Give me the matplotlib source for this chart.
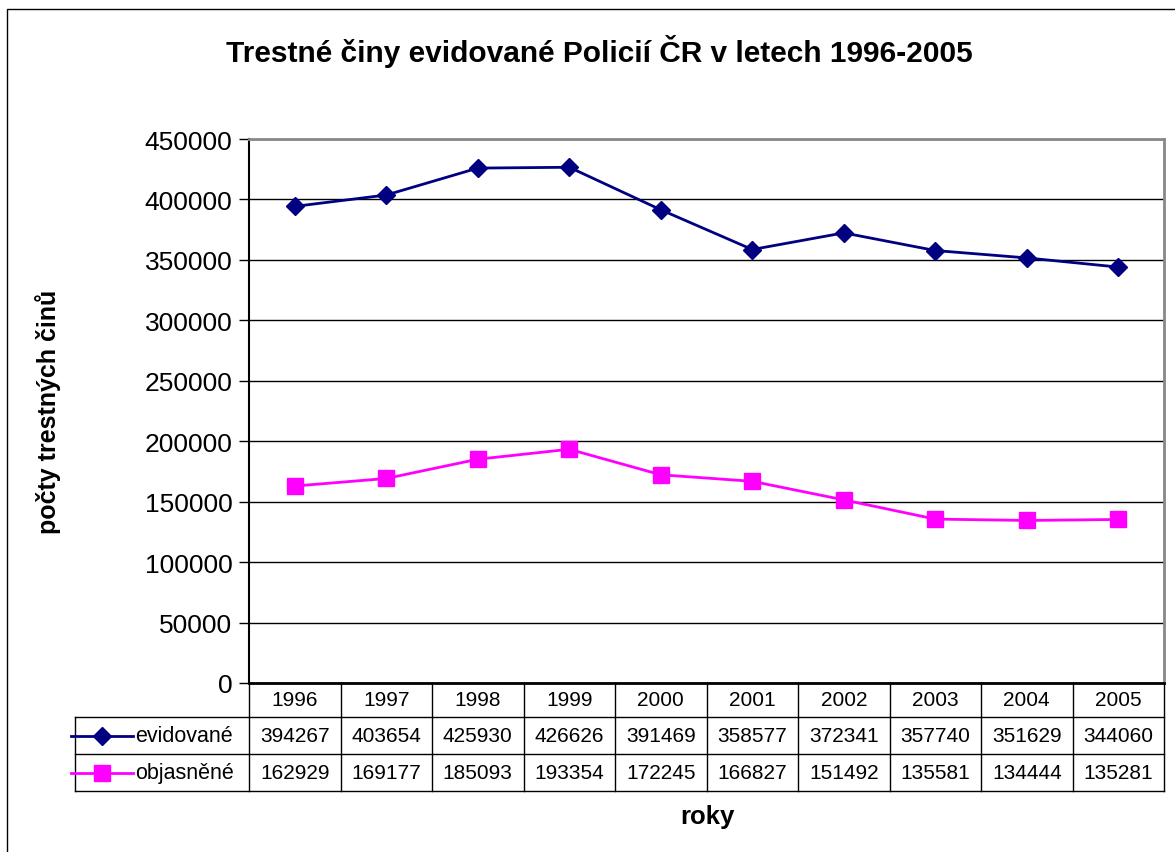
import matplotlib
matplotlib.use("Agg")
import matplotlib.pyplot as plt
from matplotlib.lines import Line2D
from matplotlib.patches import Rectangle

plt.rcParams['font.family'] = ['Liberation Sans', 'DejaVu Sans']

years = [1996, 1997, 1998, 1999, 2000, 2001, 2002, 2003, 2004, 2005]
evidovane = [394267, 403654, 425930, 426626, 391469, 358577, 372341, 357740, 351629, 344060]
objasnene = [162929, 169177, 185093, 193354, 172245, 166827, 151492, 135581, 134444, 135281]
series_names = ['evidované', 'objasněné']

W, H = 1175, 853
fig = plt.figure(figsize=(W / 100, H / 100), dpi=100)

# outer chart frame (right and bottom edges run off the picture)
fig.patches.append(Rectangle((7 / W, -0.01), 1.02, (H - 10) / H + 0.01,
                             transform=fig.transFigure, fill=False,
                             edgecolor='black', linewidth=1.0))

left, right, top, bottom = 249, 1164, 140, 684
ax = fig.add_axes([left / W, (H - bottom) / H, (right - left) / W, (bottom - top) / H])

x = list(range(len(years)))
ax.plot(x, evidovane, color='#000080', linewidth=2, marker='D', markersize=9,
        zorder=3, clip_on=False)
ax.plot(x, objasnene, color='#FF00FF', linewidth=2, marker='s', markersize=11,
        zorder=3, clip_on=False)

ax.set_xlim(-0.5, len(years) - 0.5)
ax.set_ylim(0, 450000)
ax.set_yticks(range(0, 450001, 50000))
ax.set_yticklabels([str(v) for v in range(0, 450001, 50000)], fontsize=19)
ax.set_xticks([])
ax.tick_params(axis='y', direction='out', length=7, width=1, pad=5)
ax.yaxis.grid(True, color='black', linewidth=1)
ax.set_axisbelow(True)

ax.spines['top'].set_color('#888888')
ax.spines['right'].set_color('#888888')
ax.spines['top'].set_linewidth(2)
ax.spines['right'].set_linewidth(2)
ax.spines['left'].set_linewidth(1.5)
ax.spines['bottom'].set_linewidth(2)

# data table under the plot
ph = bottom - top
r1 = -34 / ph
r2 = -71 / ph
r3 = -108 / ph
xl = -0.5 - (left - 75) / ((right - left) / len(years))
tr = ax.get_xaxis_transform()
for k in range(len(years) + 1):
    ax.add_line(Line2D([k - 0.5, k - 0.5], [0, r3], transform=tr, color='black',
                       linewidth=1, clip_on=False))
ax.add_line(Line2D([xl, xl], [r1, r3], transform=tr, color='black', linewidth=1, clip_on=False))
for yy in (r1, r2, r3):
    ax.add_line(Line2D([xl, len(years) - 0.5], [yy, yy], transform=tr, color='black',
                       linewidth=1, clip_on=False))

fs = 15
for i, yr in enumerate(years):
    ax.text(i, r1 / 2, str(yr), transform=tr, ha='center', va='center', fontsize=fs)
    ax.text(i, (r1 + r2) / 2, str(evidovane[i]), transform=tr, ha='center', va='center', fontsize=fs)
    ax.text(i, (r2 + r3) / 2, str(objasnene[i]), transform=tr, ha='center', va='center', fontsize=fs)

# legend keys inside the table
key_x0, key_x1 = xl - 0.04, xl + 0.63
for yy, col, mk, ms, name in [((r1 + r2) / 2, '#000080', 'D', 9, series_names[0]),
                               ((r2 + r3) / 2, '#FF00FF', 's', 11, series_names[1])]:
    ax.add_line(Line2D([key_x0, key_x1], [yy, yy], transform=tr, color=col,
                       linewidth=2, clip_on=False))
    ax.add_line(Line2D([(key_x0 + key_x1) / 2], [yy], transform=tr, color=col,
                       marker=mk, markersize=ms, clip_on=False))
    ax.text(key_x1 + 0.03, yy, name, transform=tr, ha='left', va='center', fontsize=15.5)

fig.text(599 / W, 1 - 52 / H, 'Trestné činy evidované Policií ČR v letech 1996-2005',
         ha='center', va='center', fontsize=21.5, fontweight='bold')
fig.text(48 / W, 1 - 412 / H, 'počty trestných činů', rotation=90,
         ha='center', va='center', fontsize=18, fontweight='bold')
fig.text(707 / W, 1 - 817 / H, 'roky', ha='center', va='center', fontsize=18.5, fontweight='bold')

fig.savefig('out.png', dpi=100)
